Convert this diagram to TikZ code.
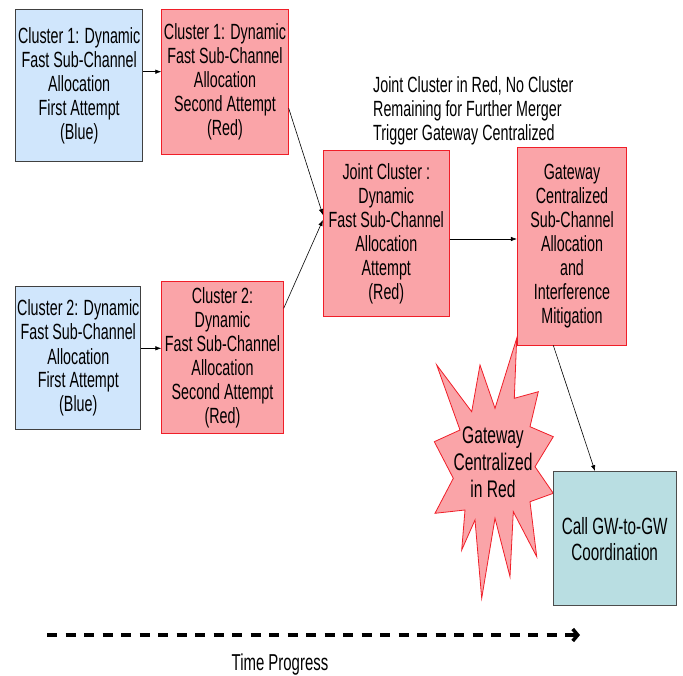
\documentclass[tikz,border=0pt]{standalone}
\usepackage{fontspec}
\setmainfont[FakeStretch=0.65]{Liberation Sans}
\usetikzlibrary{arrows.meta}
\definecolor{boxblue}{RGB}{208,230,252}
\definecolor{boxred}{RGB}{250,164,168}
\definecolor{boxteal}{RGB}{185,222,226}
\definecolor{linered}{RGB}{240,30,40}
\begin{document}
\begin{tikzpicture}[x=1pt,y=-1pt,
		every node/.style={font=\fontsize{22}{24}\selectfont, align=center, inner sep=0pt},
		bluebox/.style={draw=black!75, fill=boxblue, line width=1pt},
		redbox/.style={draw=linered, fill=boxred, line width=0.8pt},
		tealbox/.style={draw=black!70, fill=boxteal, line width=1pt},
		conn/.style={-{Latex[length=6pt,width=4.5pt]}, line width=0.6pt},
		timearrow/.style={-{Straight Barb[length=5pt,width=12pt,line width=3.5pt]}, line width=3.5pt, dash pattern=on 10pt off 8.5pt}]
		\useasboundingbox (0,0) rectangle (683,675);
		\draw[redbox] (516.7,338.3) -- (514.3,398.3) -- (538.3,391.7) -- (530,426.7) -- (553.3,436.7) -- (535,466.7) -- (553.3,493.3) -- (530,501.7) -- (536.7,556.7) -- (513.3,511.7) -- (510,576.7) -- (495,518.3) -- (481.7,598.3) -- (475,520) -- (461.7,550) -- (465,510) -- (435,513.3) -- (453.3,478.3) -- (434.3,441.7) -- (460,430) -- (436.7,365) -- (471.7,411.7) -- (480,365) -- (495,408.3) -- cycle;
		\node[font=\fontsize{24}{27}\selectfont] (star) at (493,462) {Gateway\\Centralized\\in Red};
		\node[bluebox, minimum width=127pt, minimum height=152.4pt] (clA1) at (79.2,85.5) {Cluster 1: Dynamic\\Fast Sub-Channel\\Allocation\\First Attempt\\(Blue)};
		\node[redbox, minimum width=126.6pt, minimum height=145pt] (clA2) at (225,81.8) {Cluster 1: Dynamic\\Fast Sub-Channel\\Allocation\\Second Attempt\\(Red)};
		\node[bluebox, minimum width=125.3pt, minimum height=143.3pt] (clB1) at (78.3,358.3) {Cluster 2: Dynamic\\Fast Sub-Channel\\Allocation\\First Attempt\\(Blue)};
		\node[redbox, minimum width=121.6pt, minimum height=151.6pt] (clB2) at (222.5,357.5) {Cluster 2:\\Dynamic\\Fast Sub-Channel\\Allocation\\Second Attempt\\(Red)};
		\node[redbox, minimum width=126pt, minimum height=166pt] (joint) at (386.3,233.7) {Joint Cluster :\\Dynamic\\Fast Sub-Channel\\Allocation\\Attempt\\(Red)};
		\node[redbox, minimum width=109.4pt, minimum height=197.3pt] (gw) at (572,246.3) {Gateway\\Centralized\\Sub-Channel\\Allocation\\and\\Interference\\Mitigation};
		\node[tealbox, minimum width=122.7pt, minimum height=134.3pt, font=\fontsize{23.5}{26}\selectfont] (call) at (614.7,538.8) {Call GW-to-GW\\Coordination};
		\node[anchor=west, align=left] (note) at (373,111) {Joint Cluster in Red, No Cluster\\Remaining for Further Merger\\Trigger Gateway Centralized};
		\draw[conn] ([yshift=13.8pt]clA1.east) -- ([yshift=13.8pt]clA1.east -| clA2.west);
		\draw[conn] ([yshift=10pt]clB1.east) -- ([yshift=10pt]clB1.east -| clB2.west);
		\draw[conn] ([yshift=-26.5pt]clA2.east) -- ([yshift=18.7pt]joint.west);
		\draw[conn] ([yshift=49.2pt]clB2.east) -- ([yshift=13.7pt]joint.west);
		\draw[conn] ([yshift=-5.3pt]joint.east) -- ([yshift=-5.3pt]joint.east -| gw.west);
		\draw[conn] ([xshift=-18.7pt]gw.south) -- ([xshift=-19.7pt]call.north);
		\coordinate (tstart) at (47,635);
		\coordinate (tend) at (580,635);
		\draw[timearrow] (tstart) -- (tend);
		\node[font=\fontsize{23}{24}\selectfont] (time) at (280,665) {Time Progress};
	\end{tikzpicture}
\end{document}
